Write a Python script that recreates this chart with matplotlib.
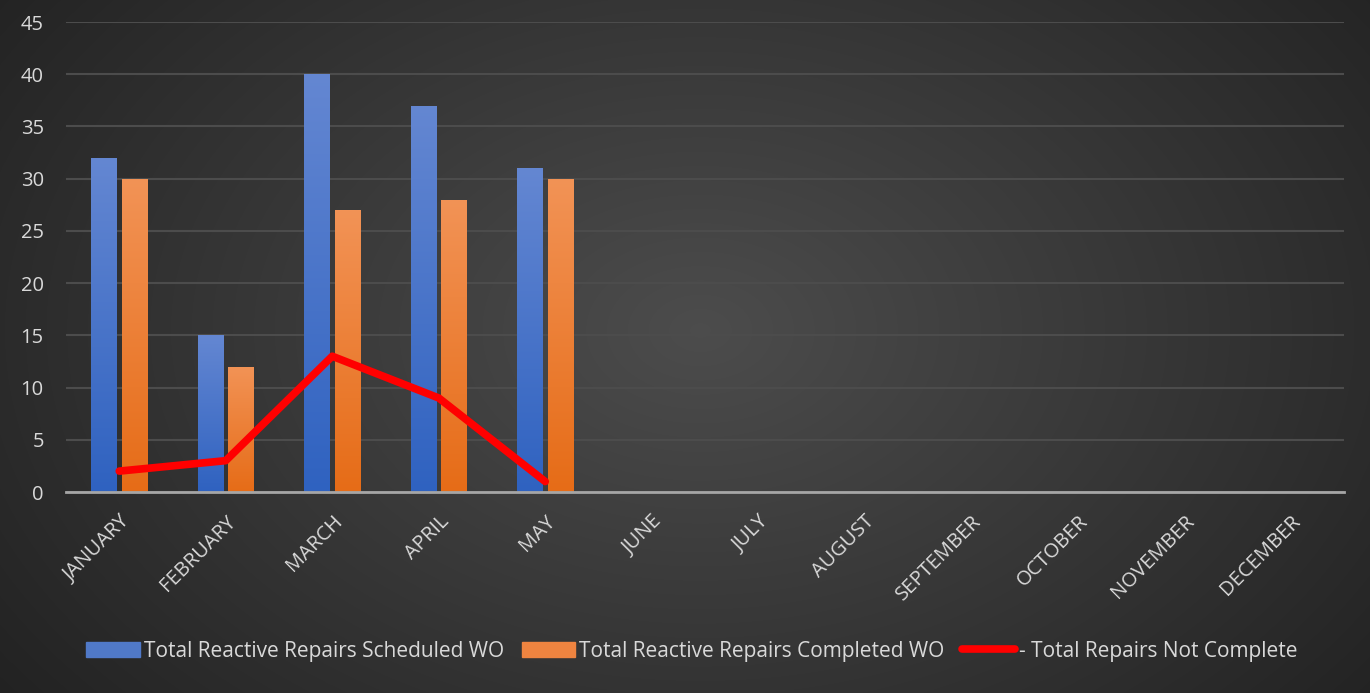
import matplotlib.pyplot as plt
import numpy as np
from matplotlib.colors import LinearSegmentedColormap

months = ["JANUARY", "FEBRUARY", "MARCH", "APRIL", "MAY", "JUNE", "JULY",
          "AUGUST", "SEPTEMBER", "OCTOBER", "NOVEMBER", "DECEMBER"]
scheduled = [32, 15, 40, 37, 31]
completed = [30, 12, 27, 28, 30]
not_complete = [2, 3, 13, 9, 1]
y_ticks = [0, 5, 10, 15, 20, 25, 30, 35, 40, 45]

label_color = "#d9d9d9"
plt.rcParams["font.family"] = ["Open Sans", "DejaVu Sans"]


def gradient_fill(ax, bars, top, bottom):
    # vertical colour gradient clipped to each bar
    cmap = LinearSegmentedColormap.from_list("g", [bottom, top])
    grad = np.linspace(0, 1, 256).reshape(-1, 1)
    for b in bars:
        x, y = b.get_x(), b.get_y()
        w, h = b.get_width(), b.get_height()
        im = ax.imshow(grad, cmap=cmap, aspect="auto", origin="lower",
                       extent=(x, x + w, y, y + h), zorder=b.get_zorder())
        im.set_clip_path(b)


fig = plt.figure(figsize=(13.7, 6.93), dpi=100)

# radial background
bg = fig.add_axes([0, 0, 1, 1], zorder=-1)
yy, xx = np.mgrid[0:693, 0:1370]
r = np.sqrt(((xx - 700) / 900.0) ** 2 + ((yy - 330) / 620.0) ** 2)
shade = np.clip(0.30 - 0.17 * r, 0.13, 0.30)
bg.imshow(np.dstack([shade] * 3), aspect="auto", extent=(0, 1, 0, 1))
bg.set_axis_off()

ax = fig.add_axes([66 / 1370, 1 - 492 / 693, 1278 / 1370, 470 / 693])
ax.set_facecolor("none")

x = np.arange(len(months))
n = len(scheduled)
w = 0.24
gap = 0.047
b1 = ax.bar(x[:n] - (w + gap) / 2, scheduled, w, color="#4472c4",
            label="Total Reactive Repairs Scheduled WO", zorder=2)
b2 = ax.bar(x[:n] + (w + gap) / 2, completed, w, color="#ed7d31",
            label="Total Reactive Repairs Completed WO", zorder=2)
ax.plot(x[:n], not_complete, color="#ff0000", linewidth=5.5,
        solid_capstyle="round", solid_joinstyle="round", zorder=4,
        label="- Total Repairs Not Complete")

ax.set_xlim(-0.5, len(months) - 0.5)
ax.set_ylim(0, 45)
ax.set_yticks(y_ticks)
ax.set_xticks(x)
ax.set_xticklabels(months, rotation=45, ha="right", rotation_mode="anchor")

gradient_fill(ax, b1, "#6487d2", "#2f62c0")
gradient_fill(ax, b2, "#f29356", "#e66c17")

for b in list(b1) + list(b2):
    b.set_alpha(0)

ax.grid(axis="y", color="#4c4c4c", linewidth=1.5, zorder=0)
ax.set_axisbelow(True)
for s in ["top", "right", "left"]:
    ax.spines[s].set_visible(False)
ax.spines["bottom"].set_color("#a6a6a6")
ax.spines["bottom"].set_linewidth(2)
ax.spines["bottom"].set_zorder(3)
ax.tick_params(axis="both", length=0, colors=label_color, labelsize=14.5)
ax.tick_params(axis="y", pad=16)
ax.tick_params(axis="x", pad=14)

handles = [plt.Rectangle((0, 0), 1, 1, color="#5079c8"),
           plt.Rectangle((0, 0), 1, 1, color="#ef8440"),
           plt.Line2D([0], [0], color="#ff0000", linewidth=5.5,
                      solid_capstyle="round")]
labels = [b1.get_label(), b2.get_label(), "- Total Repairs Not Complete"]
leg = fig.legend(handles, labels, loc="center",
                 bbox_to_anchor=(692 / 1370, 1 - 651 / 693),
                 ncol=3, frameon=False, fontsize=15, handlelength=2.55,
                 handleheight=0.7, handletextpad=0.2, columnspacing=0.85)
for t in leg.get_texts():
    t.set_color(label_color)

fig.savefig("out.png", dpi=100)
